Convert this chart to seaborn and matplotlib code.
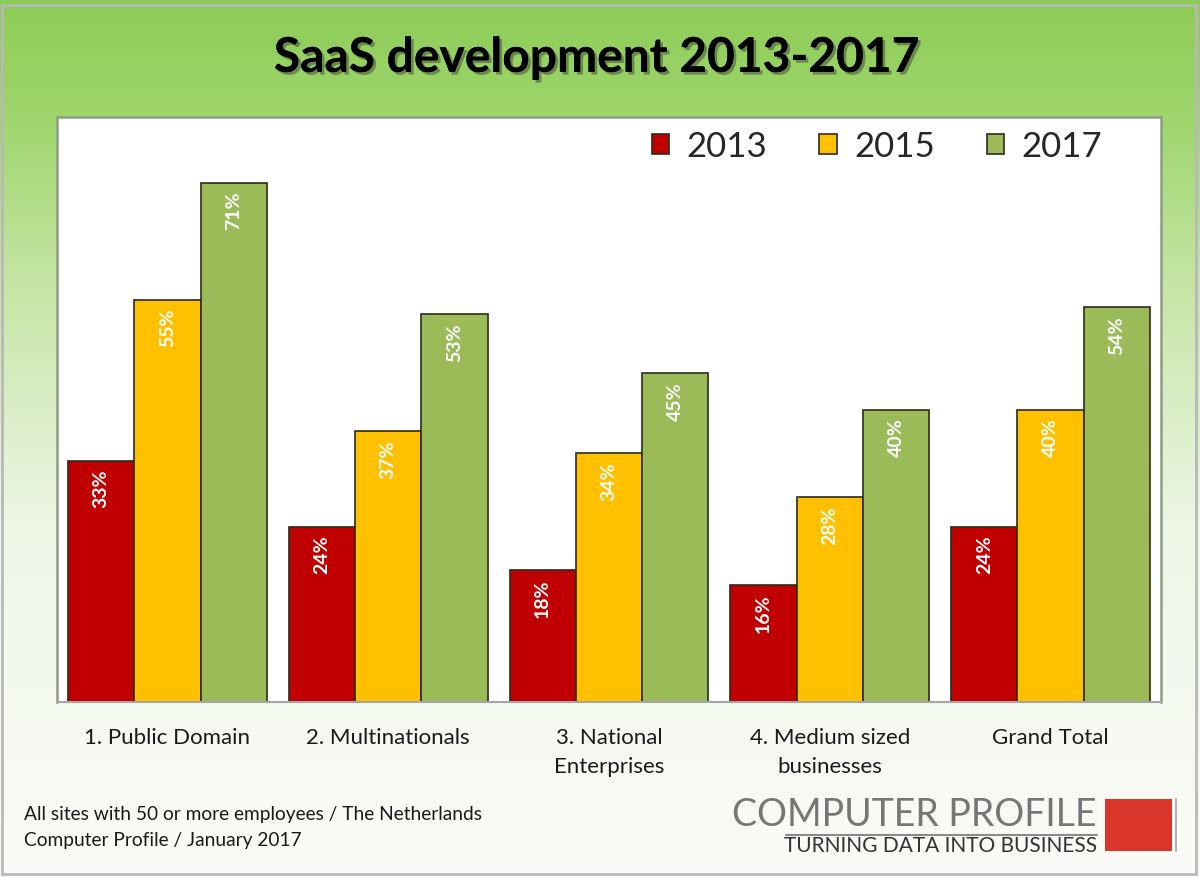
import matplotlib
matplotlib.use("Agg")
import matplotlib.pyplot as plt
import matplotlib.patheffects as pe
from matplotlib.patches import Rectangle
from matplotlib.colors import LinearSegmentedColormap
import numpy as np
import pandas as pd
import seaborn as sns

# data
categories = ["1. Public Domain", "2. Multinationals", "3. National\nEnterprises",
              "4. Medium sized\nbusinesses", "Grand Total"]
years = ["2013", "2015", "2017"]
vals_2013 = [33, 24, 18, 16, 24]
vals_2015 = [55, 37, 34, 28, 40]
vals_2017 = [71, 53, 45, 40, 54]
colors = ["#c00000", "#ffc000", "#9bbb59"]

df = pd.DataFrame({
    "category": categories * 3,
    "year": [y for y in years for _ in categories],
    "value": vals_2013 + vals_2015 + vals_2017,
})

sns.set_style("white")
plt.rcParams["font.family"] = ["Lato", "DejaVu Sans"]

fig = plt.figure(figsize=(12, 8.78), dpi=100)

# green gradient background
bg = fig.add_axes([0, 0, 1, 1], zorder=-5)
cmap = LinearSegmentedColormap.from_list(
    "bg", [(0, "#8dcc56"), (0.14, "#9fd66e"), (0.32, "#c4e5a3"), (0.6, "#eef6e6"), (1, "#fbfcf9")])
grad = np.linspace(0, 1, 256).reshape(-1, 1)
bg.imshow(grad, aspect="auto", cmap=cmap, extent=[0, 1, 0, 1], origin="upper")
bg.set_xlim(0, 1)
bg.set_ylim(0, 1)
bg.axis("off")
bg.add_patch(Rectangle((0.002, 0.003), 0.995, 0.99, fill=False, edgecolor="#b8b8b8", lw=2))

ax = fig.add_axes([0.0475, 0.1993, 0.92, 0.6663])
sns.barplot(data=df, x="category", y="value", hue="year", palette=colors, saturation=1,
            width=0.9, edgecolor="#2b2b1a", linewidth=1.2, ax=ax)
ax.set_facecolor("white")
ax.set_ylim(0, 80)
ax.set_xlim(-0.5, 4.5)
ax.set_yticks([])
ax.set_xlabel("")
ax.set_ylabel("")
ax.tick_params(axis="x", which="major", length=0, pad=18, labelsize=16, labelcolor="#1a1a1a")
for lab in ax.get_xticklabels():
    lab.set_linespacing(1.55)
ax.set_xticks(np.arange(-0.5, 5, 1), minor=True)
ax.tick_params(axis="x", which="minor", length=6, color="#a0a0a0", width=1.2, direction="out")
for s in ["left", "top", "right"]:
    ax.spines[s].set_color("#8e9c84")
    ax.spines[s].set_linewidth(1.8)
ax.spines["bottom"].set_color("#a6a6a6")
ax.spines["bottom"].set_linewidth(1.5)

# value labels inside the bars, rotated
for cont in ax.containers:
    for bar in cont:
        h = bar.get_height()
        ax.text(bar.get_x() + bar.get_width() / 2, h - 1.1, f"{h:.0f}%",
                rotation=90, ha="center", va="top", color="white",
                fontsize=14, fontweight="bold")

leg = ax.legend(loc="center right", bbox_to_anchor=(0.975, 0.95), ncol=3, frameon=False,
                fontsize=25, handlelength=0.5, handleheight=0.5, columnspacing=1.5,
                handletextpad=0.5)

fig.text(0.497, 0.933, "SaaS development 2013-2017", ha="center", va="center",
         fontsize=34.5, fontweight="bold", color="black",
         path_effects=[pe.withSimplePatchShadow(offset=(2, -2), shadow_rgbFace="#333333", alpha=0.45),
                       pe.Normal()])

fig.text(0.02, 0.072, "All sites with 50 or more employees / The Netherlands",
         fontsize=13.8, color="#1a1a1a", va="center")
fig.text(0.02, 0.043, "Computer Profile / January 2017",
         fontsize=13.8, color="#1a1a1a", va="center")

# logo
fig.text(0.914, 0.072, "COMPUTER PROFILE", ha="right", va="center",
         fontsize=27, color="#767676")
fig.lines.append(plt.Line2D([0.655, 0.914], [0.048, 0.048], transform=fig.transFigure,
                            color="#8a8a8a", lw=1.5))
fig.text(0.914, 0.036, "TURNING DATA INTO BUSINESS", ha="right", va="center",
         fontsize=15, color="#333333")
fig.patches.append(Rectangle((0.921, 0.030), 0.056, 0.059, transform=fig.transFigure,
                             facecolor="#d9352a", edgecolor="none"))
fig.lines.append(plt.Line2D([0.98, 0.98], [0.030, 0.089], transform=fig.transFigure,
                            color="#a0a0a0", lw=1.2))

fig.savefig("out.png", dpi=100)
